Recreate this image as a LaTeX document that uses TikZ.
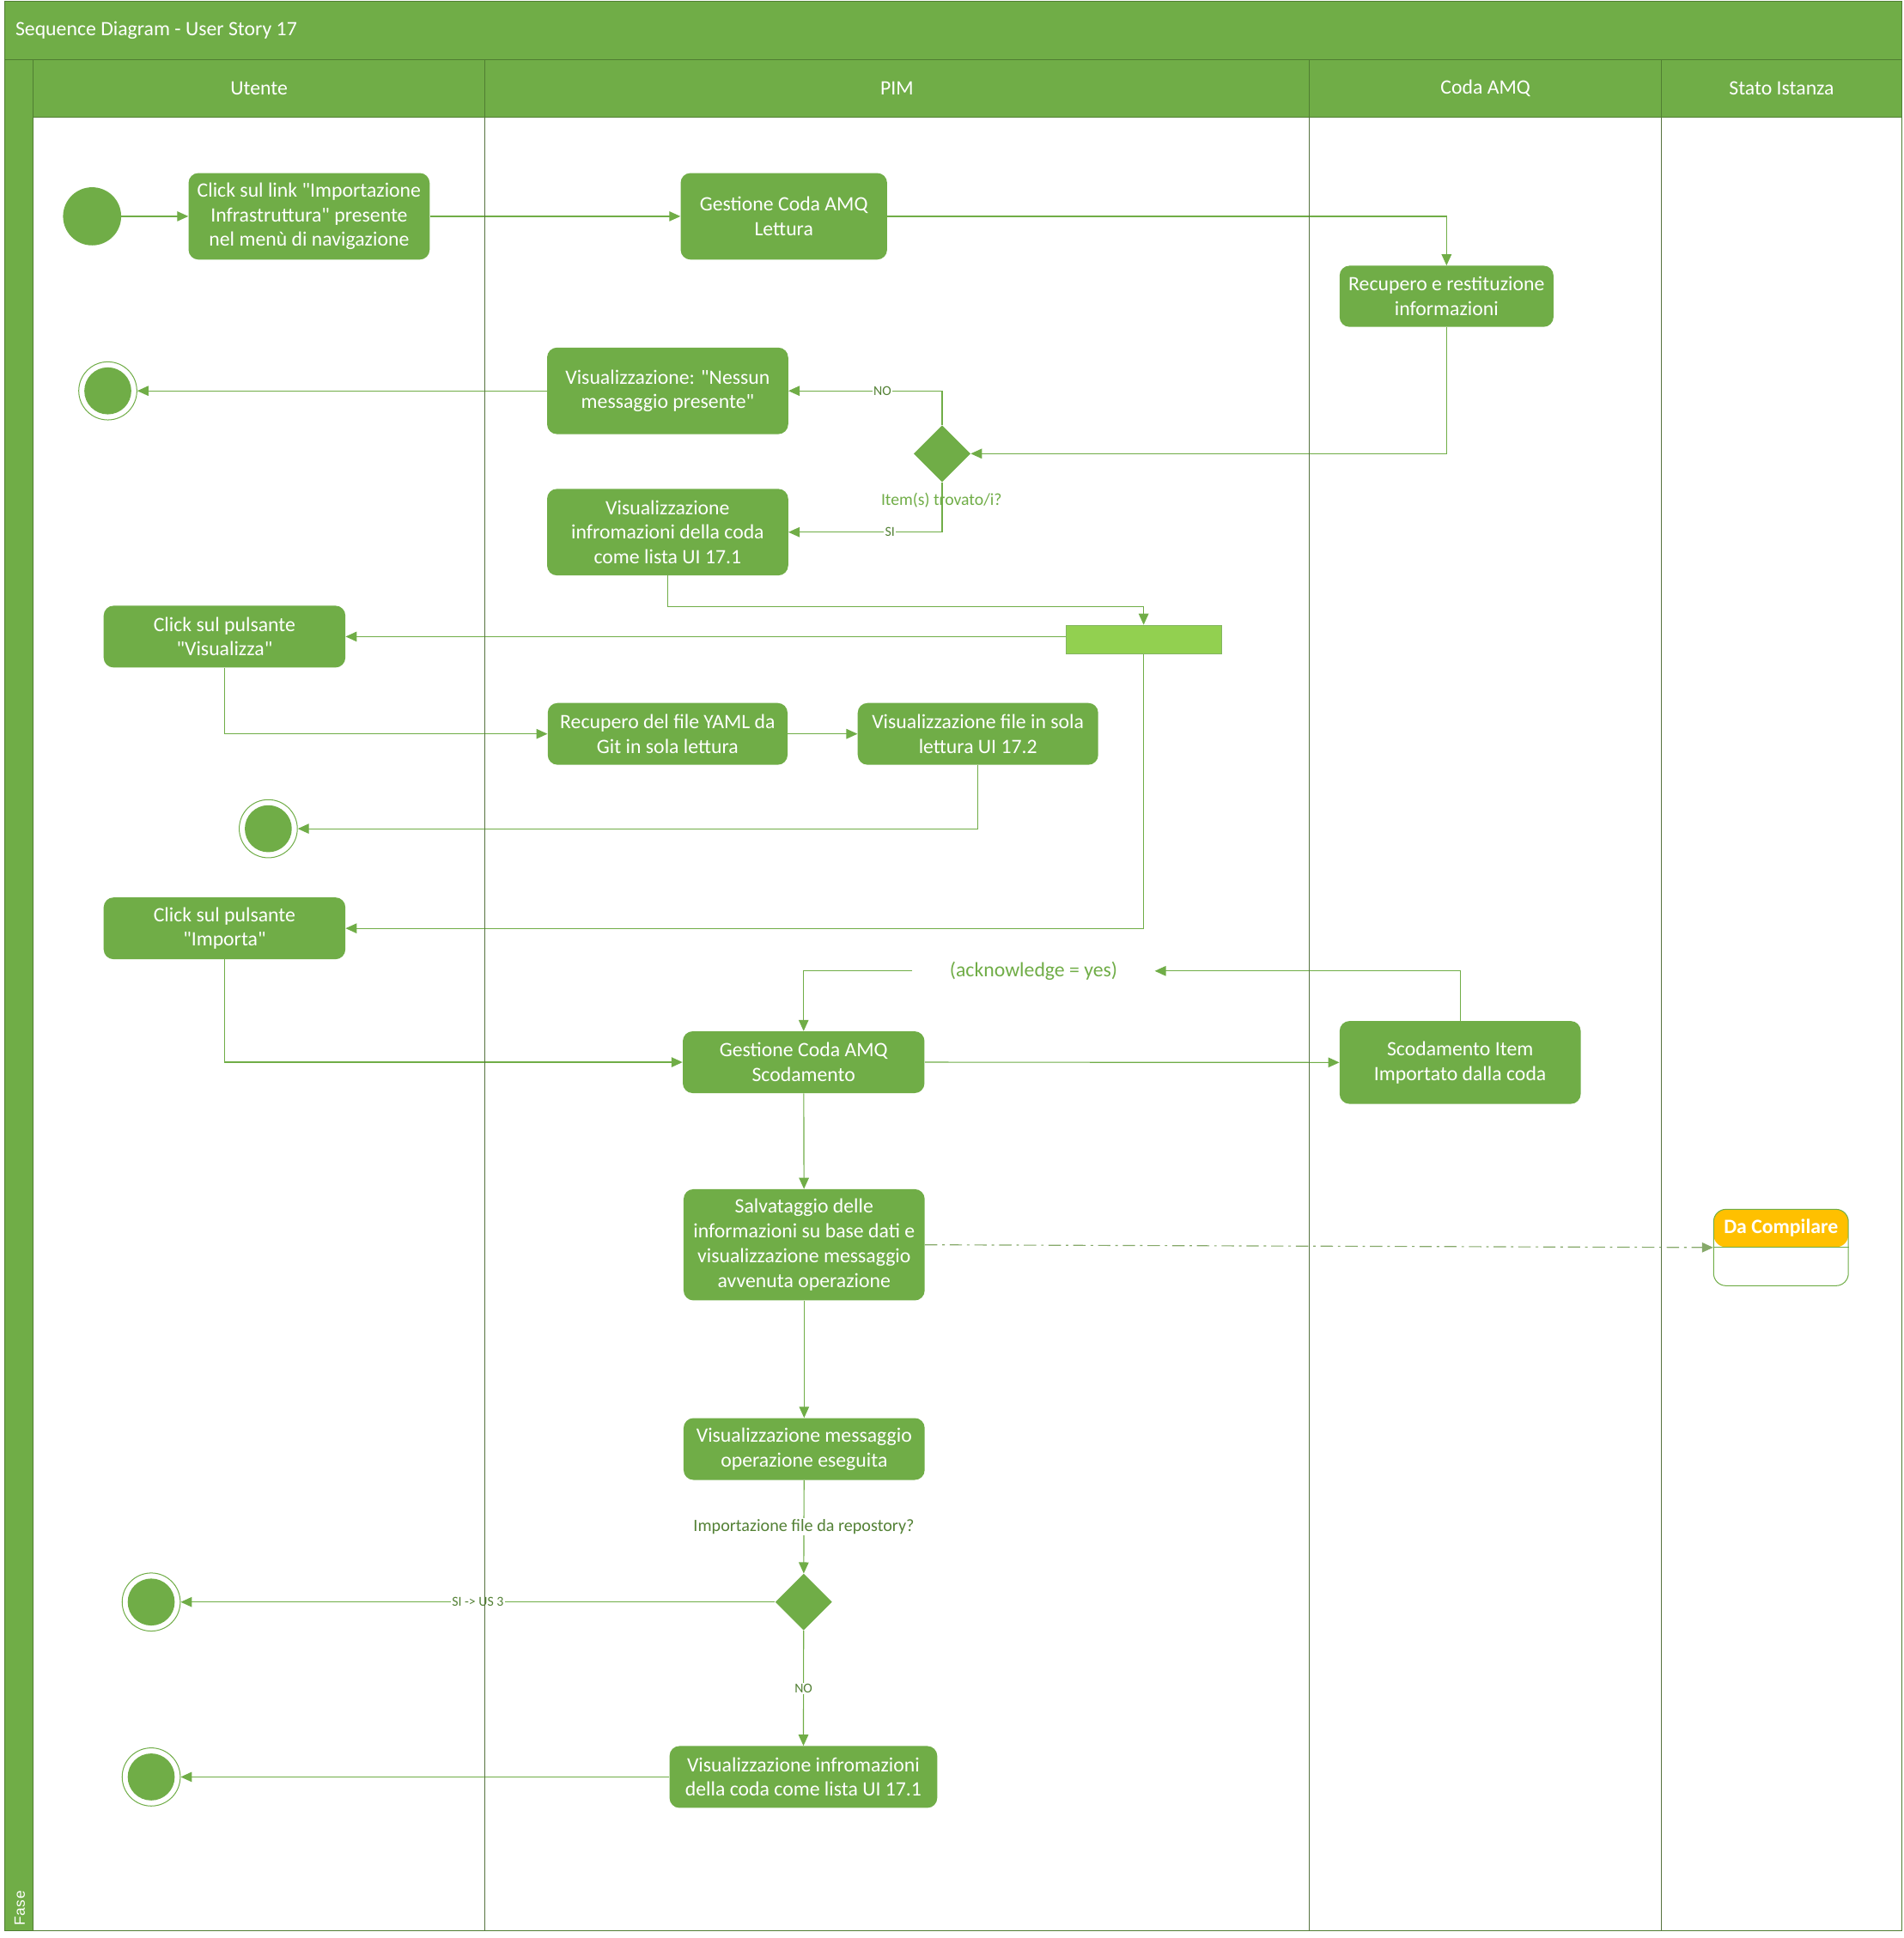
\documentclass[tikz,border=0pt]{standalone}
\usepackage{fontspec}
\setmainfont[Ligatures=TeXOff]{Carlito}
\newfontfamily\farial[LetterSpace=4]{Liberation Sans}
\usetikzlibrary{arrows.meta,shapes.geometric}
\definecolor{gr}{HTML}{70AD47}
\definecolor{grd}{HTML}{507E32}
\definecolor{grl}{HTML}{92D050}
\definecolor{grf}{HTML}{82B560}
\definecolor{lane}{HTML}{56733F}
\definecolor{yel}{HTML}{FFC000}
\definecolor{lbl}{HTML}{538135}
\definecolor{dd}{HTML}{86A96A}
\begin{document}
\begin{tikzpicture}[x=1pt,y=-1pt,
  act/.style={fill=gr, rounded corners=8pt, text=white, align=center, inner sep=0pt, font=\fontsize{16.5}{20}\selectfont},
  arr/.style={draw=gr, line width=0.8pt, -{Triangle[length=9pt,width=8pt]}},
  lab/.style={fill=white, inner sep=1pt, text=lbl, font=\fontsize{11}{13}\selectfont},
  labb/.style={fill=white, inner sep=1pt, text=lbl, font=\fontsize{14}{16}\selectfont},
  startc/.style={circle, fill=gr, minimum size=47pt, inner sep=0pt},
  endc/.style={circle, draw=gr, line width=0.7pt, fill=white, minimum size=47pt, inner sep=0pt,
    path picture={\fill[gr] (path picture bounding box.center) circle (19pt);}},
  hdr/.style={text=white, font=\fontsize{16.5}{20}\selectfont},
  dec/.style={diamond, shape aspect=1, fill=gr, minimum size=46pt, inner sep=0pt},
]
\useasboundingbox[fill=white] (0,0) rectangle (1540,1567.8);
% frame
\fill[gr] (4,1) rectangle (1538,48);
\fill[gr] (4,48) rectangle (27,1562);
\fill[gr] (27,48) rectangle (1538,95);
\draw[grd, line width=0.8pt] (4,48) -- (1538,48);
\draw[grd, line width=0.8pt] (27,95) -- (1538,95);
\draw[grd, line width=0.8pt] (27,48) -- (27,1562);
\draw[grd, line width=0.8pt] (4,1) rectangle (1538,1562);
\foreach \xx in {392,1059,1344} \draw[grd, line width=0.8pt] (\xx,48) -- (\xx,95);
\node[anchor=west, hdr] (title) at (9,24.5) {Sequence Diagram - User Story 17};
\node[hdr] (hU) at (209.5,71.5) {Utente};
\node[hdr] (hP) at (725.5,71.5) {PIM};
\node[hdr] (hC) at (1201.5,71.5) {Coda AMQ};
\node[hdr] (hS) at (1441,71.5) {Stato Istanza};
\node[rotate=90, anchor=base west, inner sep=0pt, text=white, font=\farial\fontsize{12}{14}\selectfont] (fase) at (20,1558) {Fase};

% nodes
\node[startc] (s0) at (74.5,175) {};
\node[act, minimum width=195pt, minimum height=70pt] (A) at (250,175) {Click sul link "Importazione\\Infrastruttura" presente\\nel menù di navigazione};
\node[act, minimum width=167pt, minimum height=70pt] (B) at (634,175) {Gestione Coda AMQ\\Lettura};
\node[act, minimum width=173pt, minimum height=49.5pt] (C) at (1170,239.7) {Recupero e restituzione\\informazioni};
\node[dec] (d1) at (762,367) {};
\node[text=gr, font=\fontsize{13.7}{16}\selectfont] (q1) at (761.5,404.5) {Item(s) trovato/i?};
\node[act, minimum width=195pt, minimum height=70pt] (E) at (540,316.2) {Visualizzazione: "Nessun\\messaggio presente"};
\node[act, minimum width=195pt, minimum height=70pt] (F) at (540,430.5) {Visualizzazione\\infromazioni della coda\\come lista UI 17.1};
\node[endc] (e1) at (87.2,316.2) {};
\node[fill=grl, draw=grf, line width=0.6pt, minimum width=126pt, minimum height=23.5pt, inner sep=0pt] (fork) at (925,517.5) {};
\node[act, minimum width=195.5pt, minimum height=50pt] (G) at (181.6,515) {Click sul pulsante\\"Visualizza"};
\node[act, minimum width=194pt, minimum height=50pt] (H) at (540,593.7) {Recupero del file YAML da\\Git in sola lettura};
\node[act, minimum width=194.5pt, minimum height=50pt] (I) at (791,593.7) {Visualizzazione file in sola\\lettura UI 17.2};
\node[endc] (e2) at (217,670.4) {};
\node[act, minimum width=195.5pt, minimum height=50pt] (J) at (181.6,751) {Click sul pulsante\\"Importa"};
\node[act, minimum width=195.5pt, minimum height=50pt] (K) at (650,859.3) {Gestione Coda AMQ\\Scodamento};
\node[act, minimum width=195pt, minimum height=67pt] (L) at (1181,859.5) {Scodamento Item\\Importato dalla coda};
\node[text=gr, font=\fontsize{16.5}{20}\selectfont, inner xsep=30pt, inner ysep=0pt] (ack) at (836,785.5) {(acknowledge = yes)};
\node[act, minimum width=195pt, minimum height=90pt] (M) at (650.4,1007) {Salvataggio delle\\informazioni su base dati e\\visualizzazione messaggio\\avvenuta operazione};
\node[draw=gr, line width=0.7pt, fill=white, rounded corners=10pt, minimum width=109pt, minimum height=61.8pt, inner sep=0pt,
  path picture={\fill[yel] (path picture bounding box.north west) rectangle ([yshift=-30.6pt]path picture bounding box.north east);}] (N) at (1440.5,1009.2) {};
\draw[gr, line width=0.7pt] (N.west) -- (N.east);
\node[text=white, font=\bfseries\fontsize{16.5}{20}\selectfont] (Nt) at (1440.5,993.5) {Da Compilare};
\node[act, minimum width=195pt, minimum height=50pt] (O) at (650.4,1172.2) {Visualizzazione messaggio\\operazione eseguita};
\node[dec] (d2) at (650,1296) {};
\node[endc] (e3) at (122.3,1296) {};
\node[act, minimum width=216.5pt, minimum height=50pt] (P) at (649.8,1437.5) {Visualizzazione infromazioni\\della coda come lista UI 17.1};
\node[endc] (e4) at (122.3,1437.5) {};

% connectors
\draw[arr] (s0) -- (A);
\draw[arr] (A) -- (B);
\draw[arr] (B.east) -| (C.north);
\draw[arr] (C.south) |- (d1.east);
\draw[arr] (d1.north) |- node[lab, pos=0.694] {NO} (E.east);
\draw[arr] (d1.south) |- node[lab, pos=0.67] {SI} (F.east);
\draw[arr] (E.west) -- (e1.east);
\draw[arr] (F.south) |- ([yshift=14.5pt]fork.north) -- (fork.north);
\draw[arr] (fork.west |- G.east) -- (G.east);
\draw[arr] (G.south) |- (H.west);
\draw[arr] (H) -- (I);
\draw[arr] (I.south) |- (e2.east);
\draw[arr] (fork.south) |- (J.east);
\draw[arr] (J.south) |- (K.west);
\draw[arr] (K.east) -- (L.west);
\draw[arr] (L.north) |- (ack.east);
\draw[arr] (ack.west) -| (K.north);
\draw[arr] (K) -- (M);
\draw[arr, draw=dd, dash pattern=on 10pt off 4pt on 2pt off 4pt] (M.east) -- (N.west);
\draw[arr] (M) -- (O);
\draw[arr] (O) -- node[labb] {Importazione file da repostory?} (d2);
\draw[arr] (d2) -- node[lab] {SI -> US 3} (e3);
\draw[arr] (d2) -- node[lab] {NO} (P);
\draw[arr] (P) -- (e4);

% lane lines in body
\foreach \xx in {392,1059,1344} \draw[lane, line width=0.8pt] (\xx,95) -- (\xx,1562);
\end{tikzpicture}
\end{document}
